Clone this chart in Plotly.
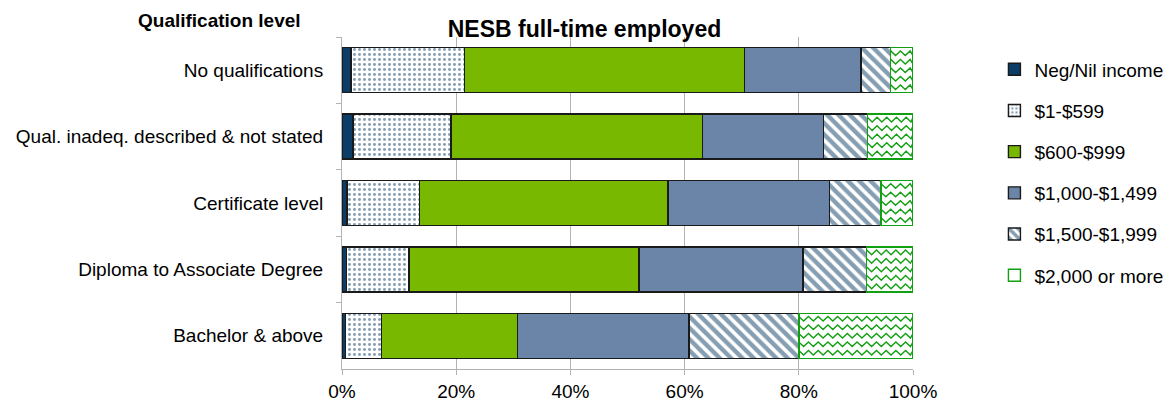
import plotly.graph_objects as go

# Qualification levels (top to bottom) and income bands
categories = [
    "No qualifications",
    "Qual. inadeq. described & not stated",
    "Certificate level",
    "Diploma to Associate Degree",
    "Bachelor & above",
]
bands = ["Neg/Nil income", "$1-$599", "$600-$999", "$1,000-$1,499",
         "$1,500-$1,999", "$2,000 or more"]

# Share of NESB full-time employed in each weekly income band (%)
neg_nil = [1.6, 1.9, 0.9, 0.8, 0.6]
inc_1_599 = [19.9, 17.2, 12.7, 10.9, 6.3]
inc_600_999 = [49.0, 44.0, 43.5, 40.3, 23.8]
inc_1000_1499 = [20.4, 21.2, 28.3, 28.7, 30.1]
inc_1500_1999 = [5.2, 7.7, 9.0, 11.2, 19.2]
inc_2000_plus = [3.9, 8.0, 5.6, 8.1, 20.0]

tick_values = [0, 20, 40, 60, 80, 100]
tick_labels = ["0%", "20%", "40%", "60%", "80%", "100%"]

FONT = "Liberation Sans, Arial, sans-serif"
NAVY = "#0b3d66"
GREEN = "#78b800"
SLATE = "#6b85a8"
ZIG = "#12a012"
EDGE = "#1a1a1a"
GRID = "#b3b3b3"

series = [neg_nil, inc_1_599, inc_600_999, inc_1000_1499, inc_1500_1999, inc_2000_plus]
styles = [
    dict(color=NAVY, pattern=dict(shape="")),
    dict(color="white", pattern=dict(shape=".", fgcolor=NAVY, bgcolor="white",
                                     size=5, solidity=0.28)),
    dict(color=GREEN, pattern=dict(shape="")),
    dict(color=SLATE, pattern=dict(shape="")),
    dict(color="white", pattern=dict(shape="\\", fgcolor=NAVY, bgcolor="white",
                                     size=8, solidity=0.55)),
    dict(color="white", pattern=dict(shape="")),
]
edges = [EDGE, EDGE, EDGE, EDGE, EDGE, ZIG]

fig = go.Figure()
for i, (name, vals, st, ec) in enumerate(zip(bands, series, styles, edges)):
    fig.add_trace(go.Bar(
        y=categories, x=vals, name=name, orientation="h",
        marker=dict(color=st["color"], pattern=st["pattern"],
                    line=dict(color=ec, width=1.4)),
        legendgroup=f"g{i}", hoverinfo="skip",
    ))

# Wavy fill for the top band: zigzag rows laid over each "$2,000 or more" segment
period = 1.7
amp = 0.035
row_offsets = [-0.256, -0.128, 0.0, 0.128, 0.256]
zx, zy = [], []
for r in range(len(categories)):
    start = sum(s[r] for s in series[:-1])
    end = start + inc_2000_plus[r]
    for off in row_offsets:
        k = 0
        x = start
        while x < end:
            zx.append(x)
            zy.append(r + off + (amp if k % 2 else -amp))
            k += 1
            x = start + k * period / 2
        zx.append(end)
        zy.append(r + off + (amp if k % 2 else -amp))
        zx.append(None)
        zy.append(None)

fig.add_trace(go.Scatter(
    x=zx, y=zy, yaxis="y2", mode="lines",
    line=dict(color=ZIG, width=1.4), showlegend=False, hoverinfo="skip",
))

fig.update_layout(
    width=1173, height=401,
    margin=dict(l=342, r=259.5, t=36.6, b=32.3, autoexpand=False),
    paper_bgcolor="white", plot_bgcolor="white",
    barmode="stack", bargap=0.32,
    font=dict(family=FONT, size=19, color="#000000"),
    title=dict(text="<b>NESB full-time employed</b>", font=dict(size=23, family=FONT),
               x=584.5 / 1173, xref="container", xanchor="center",
               y=1 - 29 / 401, yref="container", yanchor="middle"),
    xaxis=dict(range=[0, 100], tickvals=tick_values, ticktext=tick_labels,
               showgrid=True, gridcolor=GRID, gridwidth=1,
               showline=True, linecolor=GRID, linewidth=1,
               ticks="outside", ticklen=5, tickcolor=GRID,
               ticklabelstandoff=0, zeroline=False, fixedrange=True),
    yaxis=dict(type="category", categoryorder="array", categoryarray=categories,
               range=[4.5, -0.5], showline=True, linecolor=GRID, linewidth=1,
               ticks="outside", ticklen=5, tickcolor=GRID, tickson="boundaries",
               ticklabelstandoff=14, showgrid=False, fixedrange=True),
    yaxis2=dict(overlaying="y", range=[4.5, -0.5], visible=False, fixedrange=True),
    legend=dict(x=(995 - 342) / 571.5, xanchor="left", y=(368.7 - 50) / 332.1,
                yanchor="top", traceorder="grouped", tracegroupgap=13.5,
                font=dict(size=19, family=FONT), itemwidth=30,
                bgcolor="rgba(0,0,0,0)"),
    annotations=[dict(text="<b>Qualification level</b>", xref="paper", yref="paper",
                      x=(219 - 342) / 571.5, y=(368.7 - 20) / 332.1,
                      xanchor="center", yanchor="middle", showarrow=False,
                      font=dict(size=19, family=FONT))],
)

fig.write_html("out.html")
